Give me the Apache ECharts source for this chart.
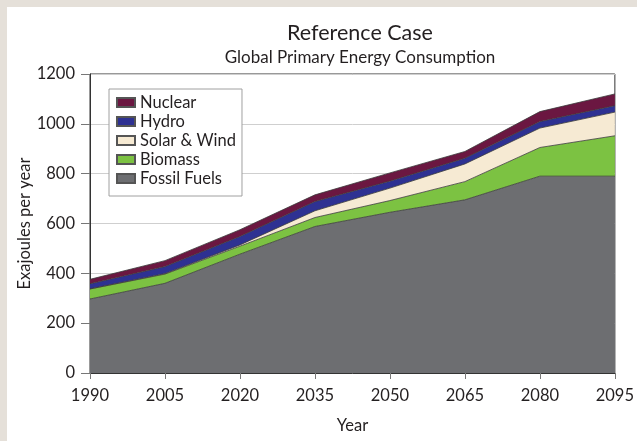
<!DOCTYPE html>
<html>
<head>
<meta charset="utf-8">
<script src="https://cdn.jsdelivr.net/npm/echarts@6/dist/echarts.min.js"></script>
<style>
html,body{margin:0;padding:0;background:#e5e0d9;}
#c{width:637px;height:441px;}
</style>
</head>
<body>
<div id="c"></div>
<script>
var years = ['1990','2005','2020','2035','2050','2065','2080','2095'];
var fossil = [297, 360, 477, 588, 645, 695, 790, 790];
var biomass = [40, 37, 32, 36, 47, 73, 115, 162];
var solarWind = [1, 2, 5, 27, 50, 71, 78, 95];
var hydro = [20, 28, 34, 37, 28, 23, 26, 26];
var nuclear = [18, 24, 27, 27, 33, 27, 40, 47];
var yTicks = [0, 200, 400, 600, 800, 1000, 1200];

var FONT = 'Lato';
var chart = echarts.init(document.getElementById('c'));

function areaSeries(name, data, color) {
  return {
    name: name, type: 'line', stack: 'total', data: data,
    symbol: 'none', smooth: false,
    lineStyle: { color: '#3a3a3a', width: 0.8 },
    areaStyle: { color: color, opacity: 1 },
    itemStyle: { color: color, borderColor: '#555', borderWidth: 0.5 },
    emphasis: { disabled: true }
  };
}

chart.setOption({
  backgroundColor: '#e5e0d9',
  animation: false,
  textStyle: { fontFamily: FONT },
  graphic: [{
    type: 'rect', z: -10, silent: true,
    shape: { x: 7, y: 7, width: 640, height: 440 },
    style: { fill: '#ffffff' }
  }],
  title: [{
    text: 'Reference Case',
    left: 355, top: 17, textAlign: 'center',
    textStyle: { fontFamily: FONT, fontSize: 21.5, fontWeight: 'normal', color: '#231f20' }
  }, {
    text: 'Global Primary Energy Consumption',
    left: 355, top: 44, textAlign: 'center',
    textStyle: { fontFamily: FONT, fontSize: 17, fontWeight: 'normal', color: '#231f20' }
  }],
  legend: {
    orient: 'vertical', left: 109, top: 89,
    data: ['Nuclear', 'Hydro', 'Solar & Wind', 'Biomass', 'Fossil Fuels'],
    icon: 'rect', itemWidth: 18, itemHeight: 9, itemGap: 2,
    padding: [5, 6, 9, 7],
    backgroundColor: '#ffffff', borderColor: '#a0a0a0', borderWidth: 1,
    textStyle: { fontFamily: FONT, fontSize: 16.5, color: '#231f20', lineHeight: 15 },
    selectedMode: false
  },
  grid: { left: 90, right: 18, top: 74, bottom: 68, show: true, borderColor: '#333', borderWidth: 1, backgroundColor: 'transparent' },
  xAxis: {
    type: 'category', data: years, boundaryGap: false,
    name: 'Year', nameLocation: 'middle', nameGap: 44,
    nameTextStyle: { fontFamily: FONT, fontSize: 16.5, color: '#231f20' },
    axisLine: { lineStyle: { color: '#333', width: 1 } },
    axisTick: { show: true, length: 6, lineStyle: { color: '#777' } },
    axisLabel: { fontFamily: FONT, fontSize: 16.5, color: '#231f20', margin: 14 },
    splitLine: { show: false }
  },
  yAxis: {
    type: 'value', min: yTicks[0], max: yTicks[yTicks.length - 1], interval: 200,
    name: 'Exajoules per year', nameLocation: 'middle', nameGap: 57, nameRotate: 90,
    nameMoveOverlap: false,
    nameTextStyle: { fontFamily: FONT, fontSize: 16.5, color: '#231f20' },
    axisLine: { show: true, lineStyle: { color: '#333', width: 1 } },
    axisTick: { show: true, length: 9, lineStyle: { color: '#777' } },
    axisLabel: { fontFamily: FONT, fontSize: 16.5, color: '#231f20', margin: 15, formatter: function (v) { return String(v); } },
    splitLine: { show: true, lineStyle: { color: '#cfcfcf', width: 1 } }
  },
  series: [
    areaSeries('Fossil Fuels', fossil, '#6d6e71'),
    areaSeries('Biomass', biomass, '#7cc242'),
    areaSeries('Solar & Wind', solarWind, '#f6ead3'),
    areaSeries('Hydro', hydro, '#2e3192'),
    areaSeries('Nuclear', nuclear, '#6b1741')
  ]
});
</script>
</body>
</html>
